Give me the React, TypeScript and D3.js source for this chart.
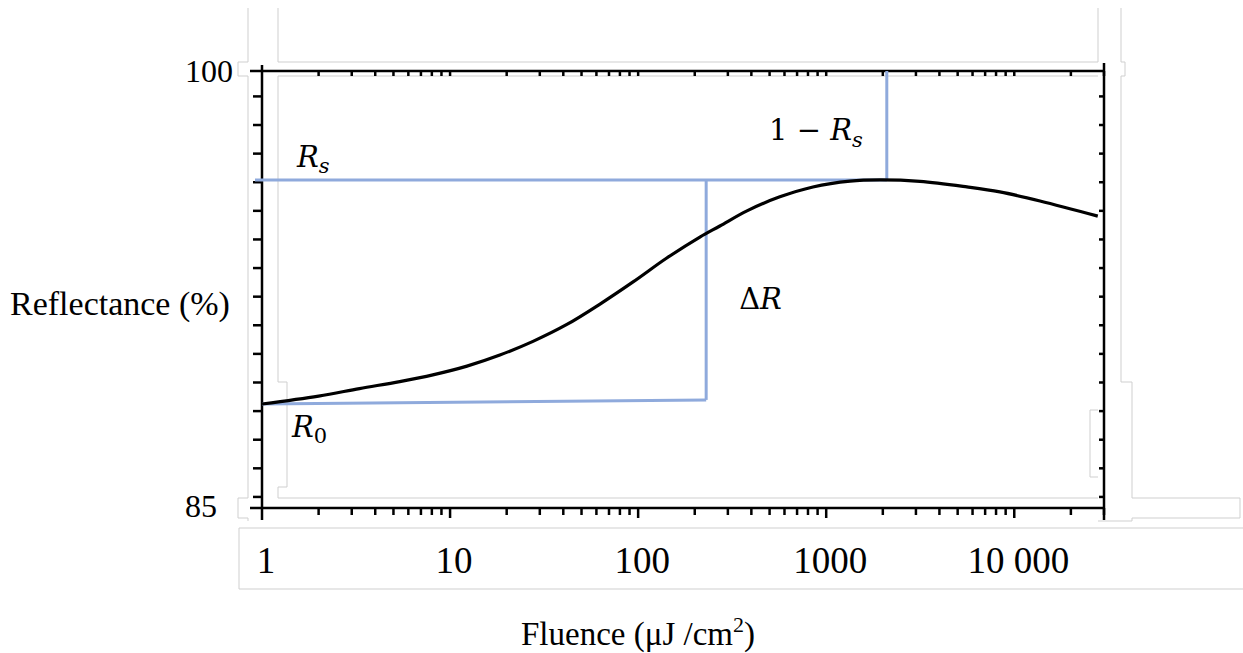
import React from 'react';
import * as d3 from 'd3';

// curve: fluence (uJ/cm2) vs reflectance (%)
const fluence = [1, 2, 3.3, 5.4, 8.1, 12.3, 18.4, 27.6, 41.8, 62.7, 94, 142, 213, 272, 379, 567, 850, 1340, 1930, 3150, 5600, 8380, 13700, 27800];
const reflectance = [88.57, 88.84, 89.1, 89.34, 89.57, 89.87, 90.25, 90.72, 91.3, 92.0, 92.76, 93.58, 94.3, 94.68, 95.2, 95.68, 96.02, 96.22, 96.26, 96.21, 96.02, 95.85, 95.54, 95.02];

const xTickValues = [1, 10, 100, 1000, 10000];
const xTickLabels = ['1', '10', '100', '1000', '10 000'];
const yTickValues = [100, 85];
const yTickLabels = ['100', '85'];

// guide lines
const rs = 96.26;
const r0Start = 88.57;
const r0End = 88.71;
const fluenceDelta = 230;
const fluencePeak = 2100;

// light grey outlines left over from the pasted figure
const pasteOutlines = [
  'M248,8V62H238V76H248V498H238V518H248V521',
  'M278,8V62H1098V8',
  'M278,76H1098',
  'M278,76V382H287V487H278V498H1098',
  'M1121,8V62H1125V76H1121V382H1132V498H1240V518H1132V521H1098',
  'M1098,410H1090V477H1098',
  'M1243,528H239V589H1243',
];

const serif = '"Liberation Serif", "Times New Roman", serif';
const mathFont = '"DejaVu Serif", serif';
const blue = '#8faadc';

export default function App() {
  const x = d3.scaleLog().domain([1, 30000]).range([262, 1104]);
  const y = d3.scaleLinear().domain([85, 100]).range([508, 71]);

  const line = d3.line<number>()
    .x((d, i) => x(fluence[i]))
    .y((d) => y(d))
    .curve(d3.curveCatmullRom.alpha(0.5));

  const logTicks = x.ticks().filter((t) => t > 1);
  const isMajor = (t: number) => Math.abs(Math.log10(t) - Math.round(Math.log10(t))) < 1e-9;
  const yMinor = d3.range(15).map((i) => 85.38 + i * 0.982);

  const [x0, x1] = x.range();
  const [yb, yt] = y.range();

  return (
    <svg width={1243} height={653} style={{ position: 'absolute', left: 0, top: 0, background: '#fff' }}>
      <g fill="none" stroke="#cfcfcf" strokeWidth={1}>
        {pasteOutlines.map((p, i) => <path key={i} d={p} />)}
      </g>

      {/* frame */}
      <g stroke="#000" strokeWidth={2.5} fill="none">
        <line x1={x0} x2={x0} y1={yt - 6} y2={yb + 12} />
        <line x1={x1} x2={x1} y1={yt - 8} y2={yb + 12} />
        <line x1={x0 - 12} x2={x1} y1={yt} y2={yt} />
        <line x1={x0 - 12} x2={x1} y1={yb} y2={yb} />
        {logTicks.map((t) => (
          <g key={t}>
            <line x1={x(t)} x2={x(t)} y1={yb} y2={yb + (isMajor(t) ? 10 : 7)} />
            <line x1={x(t)} x2={x(t)} y1={yt} y2={yt + 5} />
          </g>
        ))}
        {yMinor.map((v) => (
          <g key={v}>
            <line x1={x0 - 9} x2={x0} y1={y(v)} y2={y(v)} />
            <line x1={x1 - 5} x2={x1} y1={y(v)} y2={y(v)} />
          </g>
        ))}
      </g>

      {/* guide lines */}
      <g stroke={blue} strokeWidth={3} fill="none">
        <line x1={x0 - 7} x2={x(fluencePeak)} y1={y(rs)} y2={y(rs)} />
        <line x1={x(fluencePeak)} x2={x(fluencePeak)} y1={yt} y2={y(rs)} />
        <line x1={x(fluenceDelta)} x2={x(fluenceDelta)} y1={y(rs)} y2={y(r0End)} />
        <line x1={x(1)} x2={x(fluenceDelta)} y1={y(r0Start)} y2={y(r0End)} />
      </g>

      <path d={line(reflectance) || ''} fill="none" stroke="#000" strokeWidth={3.2} />

      {/* tick labels */}
      <g fontFamily={serif} fill="#000">
        {xTickValues.map((v, i) => (
          <text key={v} x={x(v) + 4} y={573} fontSize={37} textAnchor="middle">{xTickLabels[i]}</text>
        ))}
        {yTickValues.map((v, i) => (
          <text key={v} x={185} y={y(v) + (i === 0 ? 11 : 9)} fontSize={32}>{yTickLabels[i]}</text>
        ))}
        <text x={10} y={315} fontSize={34}>Reflectance (%)</text>
        <text x={521} y={645} fontSize={33}>
          Fluence (μJ /cm<tspan fontSize={22} dy={-13}>2</tspan><tspan dy={13}>)</tspan>
        </text>
      </g>

      {/* annotations */}
      <g fontFamily={mathFont} fill="#000" fontSize={29}>
        <text x={x(1.535)} y={y(rs) - 13} fontStyle="italic">
          R<tspan fontSize={21} dy={6}>s</tspan>
        </text>
        <text x={x(fluencePeak) - 24} y={y(rs) - 40} textAnchor="end">
          1 − <tspan fontStyle="italic">R</tspan><tspan fontStyle="italic" fontSize={21} dy={7}>s</tspan>
        </text>
        <text x={x(fluenceDelta) + 33} y={309}>
          Δ<tspan fontStyle="italic">R</tspan>
        </text>
        <text x={x(1) + 30} y={y(r0Start) + 33} fontStyle="italic">
          R<tspan fontStyle="normal" fontSize={21} dy={6}>0</tspan>
        </text>
      </g>
    </svg>
  );
}
